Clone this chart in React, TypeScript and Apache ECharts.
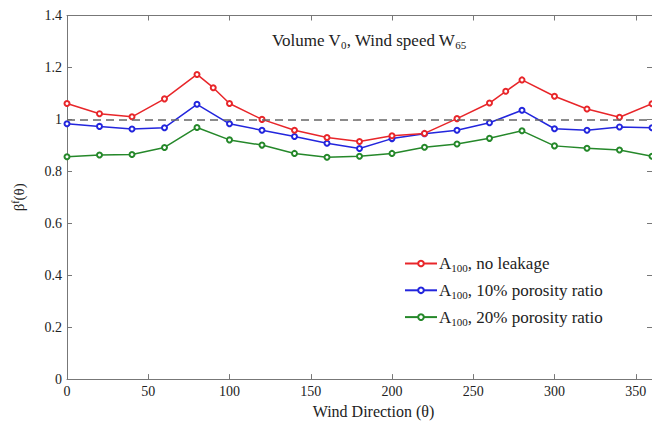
import React, { useEffect, useRef } from "react";
import * as echarts from "echarts";

const anglesRed = [0, 20, 40, 60, 80, 90, 100, 120, 140, 160, 180, 200, 220, 240, 260, 270, 280, 300, 320, 340, 360];
const noLeakage = [1.061, 1.022, 1.010, 1.079, 1.173, 1.122, 1.061, 1.000, 0.958, 0.930, 0.915, 0.937, 0.946, 1.003, 1.063, 1.108, 1.152, 1.089, 1.040, 1.008, 1.060];
const angles = [0, 20, 40, 60, 80, 100, 120, 140, 160, 180, 200, 220, 240, 260, 280, 300, 320, 340, 360];
const porosity10 = [0.983, 0.973, 0.963, 0.968, 1.058, 0.983, 0.958, 0.934, 0.908, 0.888, 0.926, 0.945, 0.958, 0.987, 1.035, 0.964, 0.958, 0.971, 0.968];
const porosity20 = [0.856, 0.863, 0.865, 0.892, 0.969, 0.921, 0.901, 0.869, 0.854, 0.858, 0.869, 0.893, 0.905, 0.927, 0.956, 0.898, 0.889, 0.882, 0.858];

const seriesNames = ["A100, no leakage", "A100, 10% porosity ratio", "A100, 20% porosity ratio"];
const legendSuffix = [", no leakage", ", 10% porosity ratio", ", 20% porosity ratio"];
const colors = ["#e8262a", "#2326dd", "#25882a"];
const referenceLevel = 1;

const FONT = "Liberation Serif";
const TEXT = "#222";
const AXIS = "#777";

export default function App() {
  const ref = useRef<HTMLDivElement>(null);
  useEffect(() => {
    if (!ref.current) return;
    const chart = echarts.init(ref.current, null, { renderer: "svg" });
    const mk = (xs: number[], ys: number[]) => xs.map((x, i) => [x, ys[i]]);
    const seriesData = [mk(anglesRed, noLeakage), mk(angles, porosity10), mk(angles, porosity20)];
    const axisCommon = {
      axisLine: { show: true, onZero: false, lineStyle: { color: AXIS, width: 1 } },
      axisTick: { show: true, inside: true, length: 5, lineStyle: { color: AXIS } },
      splitLine: { show: false },
    };
    const labelStyle = { fontFamily: FONT, fontSize: 14, color: TEXT };
    chart.setOption({
      animation: false,
      grid: { left: 67, top: 15.5, width: 588, height: 367 },
      xAxis: [
        {
          type: "value", min: 0, max: 360, interval: 50, position: "bottom",
          ...axisCommon,
          axisLabel: { ...labelStyle, margin: 5, showMaxLabel: false },
          name: "Wind Direction (θ)", nameLocation: "middle", nameGap: 20,
          nameTextStyle: { fontFamily: FONT, fontSize: 16, color: TEXT, padding: [0, 0, 0, 28] },
        },
        {
          type: "value", min: 0, max: 360, interval: 50, position: "top",
          ...axisCommon, axisLabel: { show: false },
        },
      ],
      yAxis: [
        {
          type: "value", min: 0, max: 1.4, interval: 0.2, position: "left",
          ...axisCommon,
          axisLabel: { ...labelStyle, margin: 5 },
          name: "{a|β}{sup|f}{a|(θ)}", nameLocation: "middle", nameGap: 40, nameRotate: 90,
          nameTextStyle: {
            fontFamily: FONT, fontSize: 15, color: TEXT,
            rich: {
              a: { fontFamily: FONT, fontSize: 15, color: TEXT },
              sup: { fontFamily: FONT, fontSize: 10, color: TEXT, padding: [0, 0, 7, 0] },
            },
          },
        },
        {
          type: "value", min: 0, max: 1.4, interval: 0.2, position: "right",
          ...axisCommon, axisLabel: { show: false },
        },
      ],
      legend: {
        orient: "vertical", left: 399, top: 250,
        itemWidth: 32, itemHeight: 7, itemGap: 8.3,
        data: seriesNames,
        formatter: (name: string) => {
          const i = seriesNames.indexOf(name);
          return `{a|A}{s|100}{a|${legendSuffix[i]}}`;
        },
        textStyle: {
          fontFamily: FONT, fontSize: 17, color: TEXT, padding: [0, 0, 0, -3],
          rich: {
            a: { fontFamily: FONT, fontSize: 17, color: TEXT },
            s: { fontFamily: FONT, fontSize: 11, color: TEXT, padding: [9, 0, 0, 0] },
          },
        },
      },
      graphic: [
        {
          type: "text", x: 369, y: 40,
          style: {
            text: "{a|Volume V}{s|0}{a|, Wind speed W}{s|65}",
            align: "center", verticalAlign: "middle",
            rich: {
              a: { fontFamily: FONT, fontSize: 17, fill: TEXT },
              s: { fontFamily: FONT, fontSize: 11, fill: TEXT, padding: [10, 0, 0, 0] },
            },
          },
        },
      ],
      series: seriesNames.map((name, i) => ({
        name, type: "line", data: seriesData[i],
        symbol: "emptyCircle", symbolSize: 5,
        lineStyle: { color: colors[i], width: 1.5 },
        itemStyle: { color: colors[i], borderWidth: 1.3 },
        z: 3 - i,
        markLine: i === 0 ? {
          silent: true, symbol: "none", label: { show: false },
          lineStyle: { color: "#666", type: [8, 5], width: 1.5 },
          data: [{ yAxis: referenceLevel }],
        } : undefined,
      })),
    });
    return () => chart.dispose();
  }, []);
  return <div ref={ref} style={{ width: 652, height: 424, position: "absolute", left: 0, top: 0 }} />;
}
